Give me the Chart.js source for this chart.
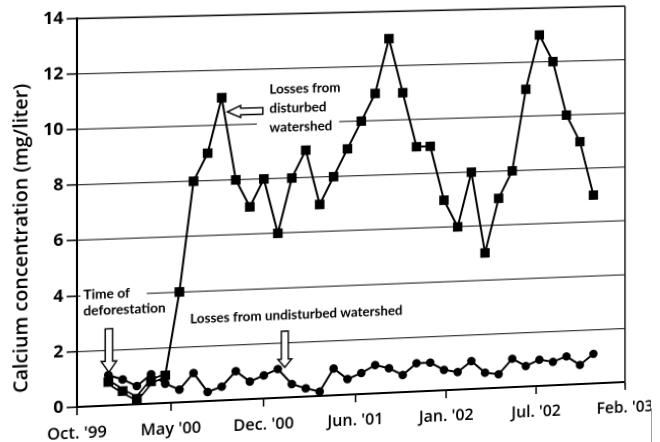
<!DOCTYPE html>
<html>
<head>
<meta charset="utf-8">
<script src="https://cdn.jsdelivr.net/npm/chart.js@4.4.1/dist/chart.umd.min.js"></script>
<style>
  html, body { margin: 0; padding: 0; background: #fff; overflow: hidden; }
  #wrap { position: relative; width: 660px; height: 442px; overflow: hidden; background: #fff; }
  #chart { position: absolute; left: 0; top: 0; transform-origin: 0 0; }
  #edge { position: absolute; left: 651px; top: 0; width: 9px; height: 442px; background: #fff; }
  #edgeLine { position: absolute; left: 651px; top: 408px; width: 1px; height: 34px; background: #a0a0a0; }
</style>
</head>
<body>
<div id="wrap">
  <canvas id="chart" width="660" height="442"></canvas>
  <div id="edge"></div>
  <div id="edgeLine"></div>
</div>
<script>
// mois depuis oct. '99 pour chaque prélèvement mensuel
const sampleMonths = [2, 3, 4, 5, 6, 7, 8, 9, 10, 11, 12, 13, 14, 15, 16, 17, 18, 19,
  20, 21, 22, 23, 24, 25, 26, 27, 28, 29, 30, 31, 32, 33, 34, 35, 36, 37];

// bassin déboisé (carrés)
const disturbed = [0.85, 0.5, 0.2, 0.8, 1.0, 4.0, 8.0, 9.0, 11.0, 8.0, 7.0, 8.0,
  6.0, 8.0, 9.0, 7.0, 8.0, 9.0, 10.0, 11.0, 13.0, 11.0, 9.0, 9.0,
  7.0, 6.0, 8.0, 5.0, 7.0, 8.0, 11.0, 13.0, 12.0, 10.0, 9.0, 7.0];

// bassin non perturbé (ronds)
const undisturbed = [1.1, 0.92, 0.66, 1.06, 0.7, 0.46, 1.04, 0.33, 0.5, 1.04, 0.64, 0.84,
  1.05, 0.48, 0.3, 0.16, 0.98, 0.57, 0.77, 1.04, 0.9, 0.63, 1.04, 1.04,
  0.75, 0.65, 1.03, 0.58, 0.5, 1.05, 0.76, 0.97, 0.87, 1.05, 0.71, 1.1];

const tickLabels = ["Oct. '99", "May '00", "Dec. '00", "Jun. '01", "Jan. '02", "Jul. '02", "Feb. '03"];
const yTitle = 'Calcium concentration (mg/liter)';

const X_MIN = -0.195;
const X_MAX = 39.35;
const FONT = "'Open Sans', 'DejaVu Sans', sans-serif";
const NOTE_FONT = "Lato, 'Open Sans', sans-serif";

Chart.defaults.color = '#000';

const pts = vals => vals.map((v, i) => ({ x: sampleMonths[i], y: v }));

// Petites fonctions de dessin pour les annotations
function fitFont(ctx, text, width, weight, family) {
  ctx.font = weight + ' 20px ' + family;
  const size = 20 * width / ctx.measureText(text).width;
  ctx.font = weight + ' ' + size.toFixed(2) + 'px ' + family;
  return size;
}

function downArrow(ctx, cx, yTop, yBase, yTip, shaft, head) {
  ctx.beginPath();
  ctx.moveTo(cx - shaft, yTop);
  ctx.lineTo(cx + shaft, yTop);
  ctx.lineTo(cx + shaft, yBase);
  ctx.lineTo(cx + head, yBase);
  ctx.lineTo(cx, yTip);
  ctx.lineTo(cx - head, yBase);
  ctx.lineTo(cx - shaft, yBase);
  ctx.closePath();
  ctx.fillStyle = '#fff';
  ctx.fill();
  ctx.strokeStyle = '#000';
  ctx.lineWidth = 1.4;
  ctx.stroke();
}

function leftArrow(ctx, xTip, cy, xBase, xTail, shaft, head) {
  ctx.beginPath();
  ctx.moveTo(xTip, cy);
  ctx.lineTo(xBase, cy - head);
  ctx.lineTo(xBase, cy - shaft);
  ctx.lineTo(xTail, cy - shaft);
  ctx.lineTo(xTail, cy + shaft);
  ctx.lineTo(xBase, cy + shaft);
  ctx.lineTo(xBase, cy + head);
  ctx.closePath();
  ctx.fillStyle = '#fff';
  ctx.fill();
  ctx.strokeStyle = '#000';
  ctx.lineWidth = 1.4;
  ctx.stroke();
}

const annotate = {
  id: 'annotate',
  beforeDatasetsDraw(chart) {
    const { ctx, scales: { x, y } } = chart;
    // fonds blancs derrière les étiquettes (coupent la grille)
    ctx.save();
    ctx.fillStyle = '#fff';
    const box = (m0, m1, v0, v1) =>
      ctx.fillRect(x.getPixelForValue(m0), y.getPixelForValue(v0),
        x.getPixelForValue(m1) - x.getPixelForValue(m0), y.getPixelForValue(v1) - y.getPixelForValue(v0));
    box(12.5, 18.4, 11.7, 9.45);
    box(0.05, 4.7, 4.35, 3.7);
    ctx.restore();
  },
  afterDatasetsDraw(chart) {
    const { ctx, chartArea, scales: { x, y } } = chart;
    const px = m => x.getPixelForValue(m);
    const py = v => y.getPixelForValue(v);
    ctx.save();

    // cadre de droite
    ctx.strokeStyle = '#111';
    ctx.lineWidth = 1.5;
    ctx.beginPath();
    ctx.moveTo(chartArea.right, chartArea.top);
    ctx.lineTo(chartArea.right, chartArea.bottom + 4);
    ctx.stroke();

    // flèches
    downArrow(ctx, px(2.04), py(2.77), py(1.6), py(1.2), 3.6, 7.5);
    downArrow(ctx, px(14.5), py(2.42), py(1.4), py(1.1), 3.4, 6.8);
    const tip = px(10.4);
    leftArrow(ctx, tip, py(10.48), tip + 13, px(12.93), 3.3, 6);

    // textes
    ctx.fillStyle = '#000';
    ctx.textAlign = 'left';
    ctx.textBaseline = 'alphabetic';
    fitFont(ctx, 'Losses from undisturbed watershed', 210, '700', NOTE_FONT);
    ctx.fillText('Losses from undisturbed watershed', px(7.75), py(2.84));
    ctx.fillText('Losses from', px(13.4), py(11.1));
    ctx.fillText('disturbed', px(13.4), py(10.4));
    ctx.fillText('watershed', px(13.4), py(9.7));
    ctx.fillText('Time of', px(0.25), py(3.86));
    ctx.fillText('deforestation', px(0.25), py(3.29));

    // titre de l'axe y
    ctx.translate(24, py(6.15));
    ctx.rotate(-Math.PI / 2);
    ctx.textAlign = 'center';
    ctx.textBaseline = 'middle';
    fitFont(ctx, yTitle, 303, '600', FONT);
    ctx.fillText(yTitle, 0, 0);
    ctx.restore();
  }
};

const chart = new Chart(document.getElementById('chart'), {
  type: 'line',
  data: {
    datasets: [
      {
        label: 'Disturbed (markers)',
        data: pts(disturbed),
        showLine: false,
        pointStyle: 'rect',
        pointRadius: 6,
        pointBorderWidth: 1,
        pointBackgroundColor: '#000',
        pointBorderColor: '#000',
        order: 0
      },
      {
        label: 'Disturbed (halo)',
        data: pts(disturbed).slice(0, 5),
        borderColor: '#fff',
        borderWidth: 1.6,
        pointRadius: 0,
        order: 1
      },
      {
        label: 'Disturbed (line)',
        data: pts(disturbed),
        borderColor: '#000',
        borderWidth: 2,
        segment: { borderWidth: c => (c.p0DataIndex < 4 ? 5 : 2) },
        pointRadius: 0,
        order: 2
      },
      {
        label: 'Undisturbed',
        data: pts(undisturbed),
        borderColor: '#000',
        borderWidth: 2,
        pointStyle: 'circle',
        pointRadius: 3.8,
        pointBorderWidth: 1,
        pointBackgroundColor: '#000',
        pointBorderColor: '#000',
        order: 3
      }
    ]
  },
  options: {
    responsive: false,
    animation: false,
    devicePixelRatio: 2,
    events: [],
    layout: { padding: { left: 0, right: 35, top: 12, bottom: 0 } },
    plugins: { legend: { display: false }, tooltip: { enabled: false } },
    scales: {
      x: {
        type: 'linear',
        min: X_MIN,
        max: X_MAX,
        afterBuildTicks: s => {
          s.ticks = tickLabels.map((_, k) => ({ value: X_MIN + k * (X_MAX - X_MIN) / (tickLabels.length - 1) }));
        },
        afterFit: s => { s.height = 47; },
        ticks: {
          autoSkip: false,
          maxRotation: 0,
          minRotation: 0,
          padding: 9,
          font: { family: FONT, size: 16, weight: '600' },
          callback: (v, i) => tickLabels[i]
        },
        grid: { drawOnChartArea: false, drawTicks: true, tickLength: 8, tickColor: '#000', tickWidth: 1.5 },
        border: { display: true, color: '#000', width: 2 }
      },
      y: {
        min: 0,
        max: 14,
        afterFit: s => { s.width = 77; },
        ticks: {
          stepSize: 2,
          padding: 3,
          font: { family: FONT, size: 17, weight: '700' }
        },
        grid: {
          color: c => (c.tick && c.tick.value === 14 ? '#111' : '#3a3a3a'),
          lineWidth: c => (c.tick && c.tick.value === 14 ? 1.6 : 1.3),
          tickColor: '#000',
          tickWidth: 1.5,
          tickLength: 10
        },
        border: { display: true, color: '#000', width: 2 }
      }
    }
  },
  plugins: [annotate]
});

// Déformation légère du scan : on ramène la zone du graphe sur les coins de l'original
const pageCorners = [[77, 18.5], [625, 6], [625, 382], [77, 407]];

function solveHomography(src, dst) {
  const M = [];
  for (let i = 0; i < 4; i++) {
    const [sx, sy] = src[i];
    const [u, v] = dst[i];
    M.push([sx, sy, 1, 0, 0, 0, -u * sx, -u * sy, u]);
    M.push([0, 0, 0, sx, sy, 1, -v * sx, -v * sy, v]);
  }
  for (let c = 0; c < 8; c++) {
    let p = c;
    for (let r = c + 1; r < 8; r++) if (Math.abs(M[r][c]) > Math.abs(M[p][c])) p = r;
    [M[c], M[p]] = [M[p], M[c]];
    for (let r = 0; r < 8; r++) {
      if (r === c) continue;
      const f = M[r][c] / M[c][c];
      for (let k = c; k < 9; k++) M[r][k] -= f * M[c][k];
    }
  }
  return M.map((row, i) => row[8] / row[i]);
}

const ca = chart.chartArea;
const h = solveHomography(
  [[ca.left, ca.top], [ca.right, ca.top], [ca.right, ca.bottom], [ca.left, ca.bottom]],
  pageCorners
);
document.getElementById('chart').style.transform =
  `matrix3d(${h[0]},${h[3]},0,${h[6]},${h[1]},${h[4]},0,${h[7]},0,0,1,0,${h[2]},${h[5]},0,1)`;
</script>
</body>
</html>
